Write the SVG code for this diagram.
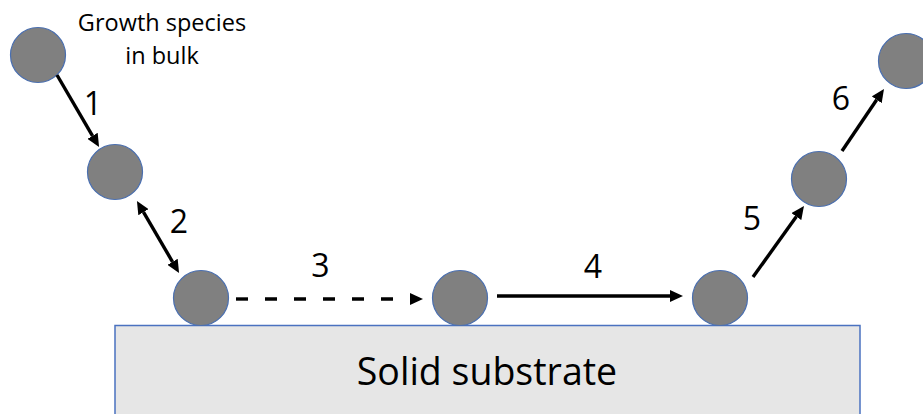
<svg xmlns="http://www.w3.org/2000/svg" width="923" height="414" viewBox="0 0 923 414">
  <style>
    .particle { fill: #808080; stroke: #4a6fb0; stroke-width: 1.2; }
    .substrate { fill: #e6e6e6; stroke: #4a72c0; stroke-width: 1.5; }
    .label { font-family: "Open Sans", "Liberation Sans", sans-serif; fill: #000; text-anchor: middle; }
    .step { font-size: 32px; }
    .conn { stroke: #000; stroke-width: 3.4; fill: none; }
  </style>
  <defs>
    <marker id="head" viewBox="0 0 13 12" refX="0" refY="6" markerWidth="13" markerHeight="12" markerUnits="userSpaceOnUse" orient="auto-start-reverse">
      <path d="M0,0 L13,6 L0,12 z" fill="#000"/>
    </marker>
  </defs>

  <rect id="background" x="0" y="0" width="923" height="414" fill="#fff"/>

  <!-- substrate block -->
  <g id="substrate">
    <rect class="substrate" x="115" y="325.5" width="745" height="100"/>
    <text class="label" x="487" y="385" font-size="37.5">Solid substrate</text>
  </g>

  <!-- caption for the bulk species -->
  <g id="bulk-label">
    <text class="label" x="162" y="31" font-size="23.5">Growth species</text>
    <text class="label" x="162" y="64" font-size="23.5">in bulk</text>
  </g>

  <!-- particles along the growth path -->
  <g id="p-bulk"><circle class="particle" cx="38" cy="55" r="27.5"/></g>
  <g id="p-boundary"><circle class="particle" cx="115" cy="172" r="27.5"/></g>
  <g id="p-adsorbed"><circle class="particle" cx="201" cy="298" r="27.5"/></g>
  <g id="p-diffused"><circle class="particle" cx="460" cy="298" r="27.5"/></g>
  <g id="p-site"><circle class="particle" cx="720" cy="298" r="27.5"/></g>
  <g id="p-desorbed"><circle class="particle" cx="819" cy="179" r="27.5"/></g>
  <g id="p-removed"><circle class="particle" cx="906" cy="61" r="27.5"/></g>

  <!-- connectors -->
  <g id="connectors">
    <line class="conn" x1="57" y1="75" x2="92.5" y2="135.8" marker-end="url(#head)"/>
    <line class="conn" x1="143.5" y1="212.2" x2="172.5" y2="261.8" marker-start="url(#head)" marker-end="url(#head)"/>
    <line class="conn" x1="236" y1="299" x2="410" y2="299" stroke-dasharray="12 17" marker-end="url(#head)"/>
    <line class="conn" x1="497" y1="296" x2="670" y2="296" marker-end="url(#head)"/>
    <line class="conn" x1="753" y1="277" x2="796.4" y2="216.6" marker-end="url(#head)"/>
    <line class="conn" x1="842" y1="151" x2="876.7" y2="99.8" marker-end="url(#head)"/>
  </g>

  <!-- step numbers -->
  <g id="step-labels">
    <text class="label step" x="93" y="115">1</text>
    <text class="label step" x="179" y="233">2</text>
    <text class="label step" x="320.5" y="277">3</text>
    <text class="label step" x="593" y="278">4</text>
    <text class="label step" x="752" y="230">5</text>
    <text class="label step" x="841" y="110">6</text>
  </g>
</svg>
